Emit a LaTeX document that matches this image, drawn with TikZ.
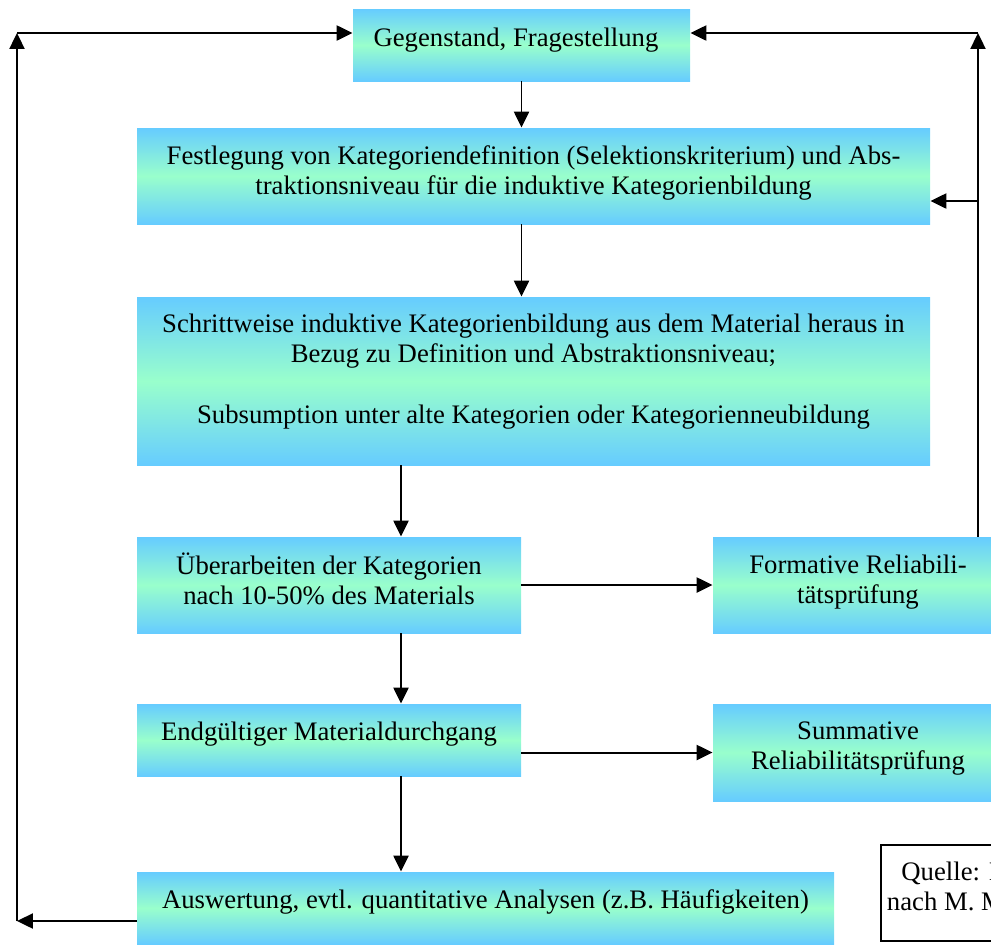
\documentclass[tikz,border=0pt]{standalone}
\usepackage{fontspec}
\setmainfont{Liberation Serif}
\usetikzlibrary{arrows.meta}

\definecolor{boxblue}{RGB}{102,204,255}
\definecolor{boxgreen}{RGB}{153,255,204}
\newcommand{\pxu}{0.453pt}

\begin{document}
\begin{tikzpicture}[x=\pxu, y=-\pxu,
		boxdim/.style 2 args={minimum width=#1*\pxu, minimum height=#2*\pxu},
		box/.style={inner sep=0pt, top color=boxblue, bottom color=boxblue, middle color=boxgreen},
		boxtext/.style={inner sep=0pt, anchor=north, align=center, font=\fontsize{12.1}{13.6}\selectfont, execute at begin node=\strut},
		srcbox/.style={inner sep=0pt, draw, line width=0.8pt, fill=white},
		arr/.style={line width=0.9pt, -{Triangle[length=7.2pt,width=6.8pt]}}]
	\useasboundingbox (0,0) rectangle (991,944);
	\clip (0,0) rectangle (991,944);

	% boxes
	\node[box, boxdim={337}{72}] (gegen) at (521.5,45) {};
	\node[boxtext] (gegentext) at ([xshift=-2.5pt, yshift=-7.3pt]gegen.north) {Gegenstand, Fragestellung};

	\node[box, boxdim={793}{96}] (fest) at (533.5,176) {};
	\node[boxtext] (festtext) at ([yshift=-8pt]fest.north) {Festlegung von Kategoriendefinition (Selektionskriterium) und Abs-\\traktionsniveau für die induktive Kategorienbildung};

	\node[box, boxdim={793}{168}] (schritt) at (533.5,381) {};
	\node[boxtext] (schritttext) at ([yshift=-7.7pt]schritt.north) {Schrittweise induktive Kategorienbildung aus dem Material heraus in\\Bezug zu Definition und Abstraktionsniveau;\\[14pt]Subsumption unter alte Kategorien oder Kategorienneubildung};

	\node[box, boxdim={384}{96}] (ueber) at (329,585) {};
	\node[boxtext] (uebertext) at ([yshift=-7.2pt]ueber.north) {Überarbeiten der Kategorien\\nach 10-50\% des Materials};

	\node[box, boxdim={290}{96}] (formativ) at (858,585) {};
	\node[boxtext] (formativtext) at ([yshift=-8pt]formativ.north) {Formative Reliabili-\\tätsprüfung};

	\node[box, boxdim={384}{72}] (endg) at (329,740) {};
	\node[boxtext] (endgtext) at ([yshift=-6.8pt]endg.north) {Endgültiger Materialdurchgang};

	\node[box, boxdim={290}{97}] (summ) at (858,752.5) {};
	\node[boxtext] (summtext) at ([yshift=-8pt]summ.north) {Summative\\Reliabilitätsprüfung};

	\node[box, boxdim={697}{72}] (ausw) at (485.5,908) {};
	\node[boxtext] (auswtext) at ([yshift=-7pt]ausw.north) {Auswertung, evtl. quantitative Analysen (z.B. Häufigkeiten)};

	\node[srcbox, boxdim={276}{96}] (quelle) at (1019,893) {};
	\node[boxtext] (quelletext) at ([yshift=-7.7pt]quelle.north) {Quelle: In Anlehnung\\nach M. Mayring (2000)};

	% connectors
	\coordinate (midx) at (401,0);
	\coordinate (lowleft) at (17,921);
	\coordinate (topleft) at (17,33);
	\coordinate (topright) at (978,33);
	\coordinate (branch) at (978,201);

	\draw[arr] (gegen.south) -- (gegen.south |- fest.north);
	\draw[arr] (fest.south -| gegen.south) -- (schritt.north -| gegen.south);
	\draw[arr] (schritt.south -| midx) -- (ueber.north -| midx);
	\draw[arr] (ueber.south -| midx) -- (endg.north -| midx);
	\draw[arr] (endg.south -| midx) -- (ausw.north -| midx);
	\draw[arr] (ueber.east) -- (formativ.west);
	\draw[arr] (endg.east |- summ.west) -- (summ.west);

	\draw[arr] (ausw.west |- lowleft) -- (lowleft);
	\draw[arr] (lowleft) -- (topleft);
	\draw[arr] (topleft) -- (topleft -| gegen.west);

	\draw[arr] (formativ.north -| topright) -- (topright);
	\draw[arr] (topright) -- (topright -| gegen.east);
	\draw[arr] (branch) -- (branch -| fest.east);
\end{tikzpicture}
\end{document}
